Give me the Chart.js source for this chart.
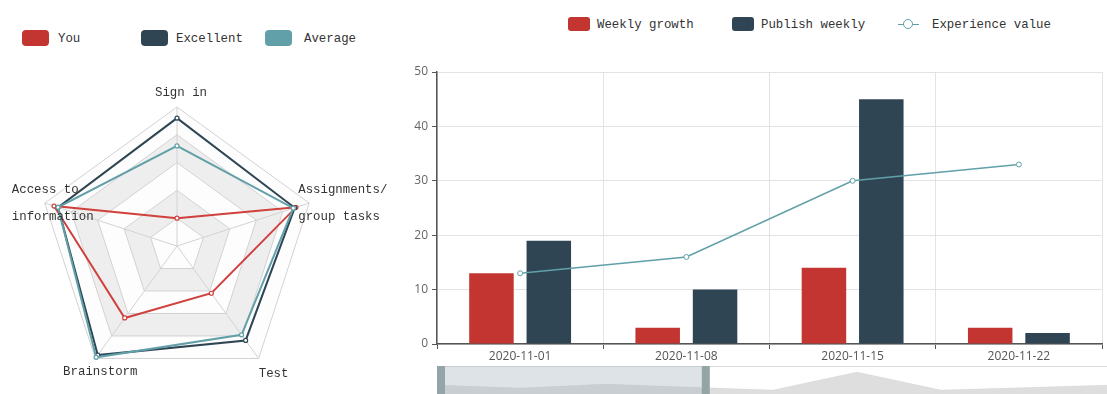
<!DOCTYPE html>
<html lang="en">
<head>
    <meta charset="UTF-8">
    <title>Study report</title>
    <script src="https://cdn.jsdelivr.net/npm/chart.js"></script>
    <style>
        body { margin: 0; width: 1107px; height: 394px; overflow: hidden; position: relative; background: #fff; }
        canvas { position: absolute; }
        .lg { position: absolute; font: 12.4px "Liberation Mono", monospace; color: #333; line-height: 16px; white-space: nowrap; }
        .box { position: absolute; border-radius: 4px; }
    </style>
</head>
<body>
    <div id="radarLegend"></div>
    <canvas id="radar" width="420" height="420" style="left:-33px;top:36px"></canvas>
    <div id="barLegend"></div>
    <canvas id="bars" width="707" height="394" style="left:400px;top:0"></canvas>
    <canvas id="slider" width="672" height="30" style="left:437px;top:366px"></canvas>
    <script>
        // radar data
        const radarIndicators = [['Sign in'], ['Assignments/', 'group tasks'], ['Test'], ['Brainstorm'], ['Access to', 'information']];
        const radarNames = ['You', 'Excellent', 'Average'];
        const youScores = [20, 90, 42, 64, 93];
        const excellentScores = [92, 89, 84, 97, 90];
        const averageScores = [72, 88, 79, 99, 90];
        const radarMax = 100;

        // weekly data
        const weeks = ['2020-11-01', '2020-11-08', '2020-11-15', '2020-11-22'];
        const seriesNames = ['Weekly growth', 'Publish weekly', 'Experience value'];
        const weeklyGrowth = [13, 3, 14, 3];
        const publishWeekly = [19, 10, 45, 2];
        const experienceValue = [13, 16, 30, 33];
        const yTicks = [0, 10, 20, 30, 40, 50];

        // overview under the chart (whole period) and the shown window
        const overviewShadow = [11, 8, 12, 9, 6, 24, 6, 8.5, 11];
        const zoomWindow = [0, 3.2];

        const RED = '#c23531', DARK = '#2f4554', TEAL = '#61a0a8';
        const radarColors = ['#d0403c', DARK, TEAL];

        // legends
        const rl = document.getElementById('radarLegend');
        const rlPos = [[22, 58], [141, 176], [265, 304]];
        radarNames.forEach((n, i) => {
            rl.innerHTML += `<div class="box" style="left:${rlPos[i][0]}px;top:30px;width:27px;height:16px;background:${[RED, DARK, TEAL][i]}"></div>` +
                `<div class="lg" style="left:${rlPos[i][1]}px;top:31px">${n}</div>`;
        });
        const bl = document.getElementById('barLegend');
        const blPos = [[568, 597], [732, 761], [898, 932]];
        seriesNames.forEach((n, i) => {
            if (i < 2) {
                bl.innerHTML += `<div class="box" style="left:${blPos[i][0]}px;top:17px;width:22px;height:14px;border-radius:3px;background:${[RED, DARK][i]}"></div>`;
            } else {
                bl.innerHTML += `<div class="box" style="left:${blPos[i][0]}px;top:24px;width:21px;height:0;border-top:1.5px solid ${TEAL};border-radius:0"></div>` +
                    `<div class="box" style="left:${blPos[i][0] + 5}px;top:19px;width:8px;height:8px;border:1.5px solid ${TEAL};border-radius:50%;background:#fff"></div>`;
            }
            bl.innerHTML += `<div class="lg" style="left:${blPos[i][1]}px;top:17px">${n}</div>`;
        });

        // radar: shaded rings + labels
        const ringStep = 20;
        const radarBands = {
            id: 'radarBands',
            beforeDraw(chart) {
                const s = chart.scales.r, ctx = chart.ctx, n = radarIndicators.length;
                ctx.save();
                for (let k = 0; k * ringStep < radarMax; k++) {
                    const r0 = s.getDistanceFromCenterForValue(k * ringStep);
                    const r1 = s.getDistanceFromCenterForValue((k + 1) * ringStep);
                    ctx.beginPath();
                    for (let i = 0; i < n; i++) {
                        const p = s.getPointPosition(i, r1);
                        i ? ctx.lineTo(p.x, p.y) : ctx.moveTo(p.x, p.y);
                    }
                    ctx.closePath();
                    for (let i = 0; i < n; i++) {
                        const p = s.getPointPosition(i, r0);
                        i ? ctx.lineTo(p.x, p.y) : ctx.moveTo(p.x, p.y);
                    }
                    ctx.closePath();
                    ctx.fillStyle = k % 2 ? 'rgba(200,200,200,0.3)' : 'rgba(250,250,250,0.3)';
                    ctx.fill('evenodd');
                }
                ctx.restore();
            }
        };
        const labelPlace = [
            { align: 'center', dx: 4, dy: -14 },
            { align: 'left', dx: -11, dy: 0 },
            { align: 'left', dx: 0, dy: 15 },
            { align: 'center', dx: 5, dy: 13 },
            { align: 'left', dx: -33, dy: 0 }
        ];
        const radarLabels = {
            id: 'radarLabels',
            afterDraw(chart) {
                const s = chart.scales.r, ctx = chart.ctx;
                ctx.save();
                ctx.font = '12.4px "Liberation Mono"';
                ctx.fillStyle = '#333';
                ctx.textBaseline = 'middle';
                radarIndicators.forEach((lines, i) => {
                    const p = s.getPointPosition(i, s.drawingArea);
                    const pl = labelPlace[i];
                    ctx.textAlign = pl.align;
                    const y0 = p.y + pl.dy - (lines.length - 1) * 27 / 2;
                    lines.forEach((t, k) => ctx.fillText(t, p.x + pl.dx, y0 + k * 27));
                });
                ctx.restore();
            }
        };

        new Chart(document.getElementById('radar'), {
            type: 'radar',
            data: {
                labels: radarIndicators,
                datasets: [youScores, excellentScores, averageScores].map((d, i) => ({
                    label: radarNames[i],
                    data: d,
                    borderColor: radarColors[i],
                    borderWidth: 2,
                    fill: false,
                    pointRadius: 2,
                    pointBackgroundColor: '#fff',
                    pointBorderColor: radarColors[i],
                    pointBorderWidth: 1.2
                })).reverse()
            },
            options: {
                responsive: false,
                animation: false,
                layout: { padding: 71 },
                plugins: { legend: { display: false }, tooltip: { enabled: false } },
                scales: {
                    r: {
                        min: 0, max: radarMax,
                        ticks: { display: false, stepSize: ringStep },
                        grid: { color: '#d2d2d2' },
                        angleLines: { color: '#d2d2d2' },
                        pointLabels: { display: false }
                    }
                }
            },
            plugins: [radarBands, radarLabels]
        });

        // weekly bars + line
        const axisFont = { family: '"Open Sans", sans-serif', size: 12 };
        new Chart(document.getElementById('bars'), {
            type: 'bar',
            data: {
                labels: weeks,
                datasets: [
                    { label: seriesNames[0], data: weeklyGrowth, backgroundColor: RED, order: 1, categoryPercentage: 0.69, barPercentage: 0.776 },
                    { label: seriesNames[1], data: publishWeekly, backgroundColor: DARK, order: 1, categoryPercentage: 0.69, barPercentage: 0.776 },
                    {
                        type: 'line', label: seriesNames[2], data: experienceValue, order: 0,
                        borderColor: TEAL, borderWidth: 1.6, tension: 0,
                        pointRadius: 2.5, pointBackgroundColor: '#fff', pointBorderColor: TEAL, pointBorderWidth: 1
                    }
                ]
            },
            options: {
                responsive: false,
                animation: false,
                layout: { padding: { top: 72, right: 0, left: 0, bottom: 0 } },
                plugins: { legend: { display: false }, tooltip: { enabled: false } },
                scales: {
                    x: {
                        grid: { color: '#e3e3e3', tickColor: '#555', tickLength: 5, offset: true },
                        border: { color: '#555', width: 1.5 },
                        ticks: { color: '#555', font: axisFont, padding: 0, maxRotation: 0 },
                        afterFit(s) { s.height = 50; }
                    },
                    y: {
                        min: yTicks[0], max: yTicks[yTicks.length - 1],
                        afterBuildTicks(s) { s.ticks = yTicks.map(v => ({ value: v })); },
                        grid: { color: '#e3e3e3', tickColor: '#555', tickLength: 5 },
                        border: { color: '#555', width: 1.5 },
                        ticks: { color: '#666', font: axisFont, padding: 4 },
                        afterFit(s) { s.width = 37; }
                    }
                }
            }
        });

        // overview slider
        const sliderWindow = {
            id: 'sliderWindow',
            afterDraw(chart) {
                const ctx = chart.ctx, xs = chart.scales.x, a = chart.chartArea;
                const x0 = xs.getPixelForValue(zoomWindow[0]);
                const x1 = xs.getPixelForValue(zoomWindow[1]);
                ctx.save();
                ctx.strokeStyle = '#ddd';
                ctx.lineWidth = 1;
                ctx.beginPath();
                ctx.moveTo(a.left, a.top + 0.5);
                ctx.lineTo(a.right, a.top + 0.5);
                ctx.stroke();
                ctx.fillStyle = 'rgba(160,176,190,0.35)';
                ctx.fillRect(x0, a.top, x1 - x0, a.bottom - a.top);
                ctx.fillStyle = '#93a5a6';
                [x0, x1].forEach(x => {
                    const hx = Math.min(Math.max(x - 4, a.left), a.right - 8);
                    ctx.fillRect(hx, a.top, 8, a.bottom - a.top);
                });
                ctx.restore();
            }
        };
        new Chart(document.getElementById('slider'), {
            type: 'line',
            data: {
                labels: overviewShadow.map((v, i) => i),
                datasets: [{
                    data: overviewShadow,
                    fill: 'origin',
                    backgroundColor: 'rgba(0,0,0,0.13)',
                    borderColor: 'rgba(0,0,0,0.08)',
                    borderWidth: 0.5,
                    pointRadius: 0,
                    tension: 0
                }]
            },
            options: {
                responsive: false,
                animation: false,
                layout: { padding: 0 },
                plugins: { legend: { display: false }, tooltip: { enabled: false } },
                scales: {
                    x: { display: false, offset: false },
                    y: { display: false, min: 0, max: 30 }
                }
            },
            plugins: [sliderWindow]
        });
    </script>
</body>
</html>
